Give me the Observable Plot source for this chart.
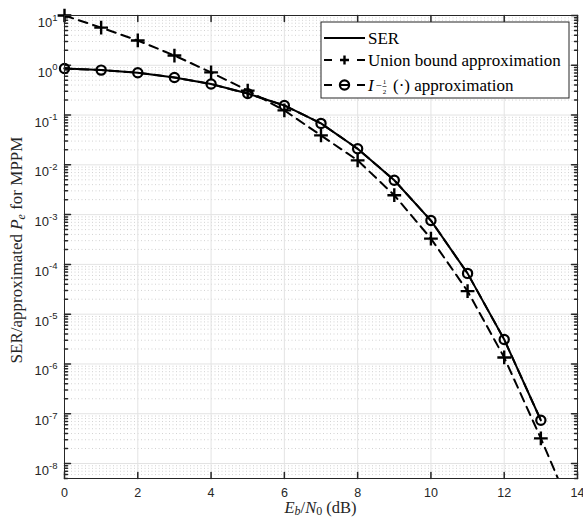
<!DOCTYPE html>
<html><head><meta charset="utf-8">
<script src="https://cdn.jsdelivr.net/npm/d3@7"></script>
<script src="https://cdn.jsdelivr.net/npm/@observablehq/plot@0.6"></script>
<style>body{margin:0;background:#fff}#chart{width:583px;height:518px}</style>
</head><body><div id="chart"></div>
<script>
// Eb/N0 (dB)
const ebn0 = [0,1,2,3,4,5,6,7,8,9,10,11,12,13];
// Simulated SER
const ser = [0.86,0.80,0.71,0.57,0.42,0.27,0.156,0.068,0.021,0.0049,7.6e-4,6.6e-5,3.1e-6,7.4e-8];
// I_{-1/2}(.) approximation
const iApprox = [0.86,0.80,0.71,0.57,0.42,0.27,0.156,0.068,0.021,0.0049,7.6e-4,6.6e-5,3.1e-6,7.4e-8];
// Union bound approximation (last point lies below the axis)
const ebn0Union = [0,1,2,3,4,5,6,7,8,9,10,11,12,13,14];
const unionBound = [10,5.7,3.15,1.57,0.72,0.31,0.124,0.039,0.0123,0.00245,3.3e-4,2.9e-5,1.35e-6,3.2e-8,6e-10];
// ticks
const xTicks = [0,2,4,6,8,10,12,14];
const yTickExps = [1,0,-1,-2,-3,-4,-5,-6,-7,-8];
const yMajor = yTickExps.map(e => Math.pow(10, e));
const yDomain = [5e-9, 10];
const yMinor = [];
for (let e = -9; e <= 0; e++) for (let m = 2; m <= 9; m++) {
  const v = m * Math.pow(10, e);
  if (v >= yDomain[0] && v <= yDomain[1]) yMinor.push(v);
}

const serData = ebn0.map((x, i) => ({x, y: ser[i]}));
const iData = ebn0.map((x, i) => ({x, y: iApprox[i]}));
const unionData = ebn0Union.map((x, i) => ({x, y: unionBound[i]}));
const unionPts = unionData.filter(d => d.y >= yDomain[0]);

const tickShape = {draw(ctx, l) { ctx.moveTo(0, 0); ctx.lineTo(0, -l); }};
const axisCol = "#262626";

const plot = Plot.plot({
  width: 583, height: 518,
  marginLeft: 64, marginRight: 6, marginTop: 15, marginBottom: 40,
  x: {domain: [0, 14], label: null},
  y: {type: "log", domain: yDomain, label: null},
  style: {background: "white", fontFamily: "'Liberation Sans', Arial, sans-serif", fontSize: "12.5px", color: axisCol},
  marks: [
    Plot.ruleY(yMinor, {stroke: "#d2d2d2", strokeDasharray: "1,2.5"}),
    Plot.ruleY(yMajor, {stroke: "#e3e3e3"}),
    Plot.ruleX(xTicks, {stroke: "#e3e3e3"}),
    // inward ticks
    Plot.vector(yMajor, {x: () => 0, y: d => d, length: 6, rotate: 90, anchor: "start", shape: tickShape, stroke: axisCol}),
    Plot.vector(yMajor, {x: () => 14, y: d => d, length: 6, rotate: -90, anchor: "start", shape: tickShape, stroke: axisCol}),
    Plot.vector(yMinor, {x: () => 0, y: d => d, length: 3, rotate: 90, anchor: "start", shape: tickShape, stroke: axisCol}),
    Plot.vector(yMinor, {x: () => 14, y: d => d, length: 3, rotate: -90, anchor: "start", shape: tickShape, stroke: axisCol}),
    Plot.vector(xTicks, {x: d => d, y: () => yDomain[0], length: 6, rotate: 0, anchor: "start", shape: tickShape, stroke: axisCol}),
    Plot.vector(xTicks, {x: d => d, y: () => yDomain[1], length: 6, rotate: 180, anchor: "start", shape: tickShape, stroke: axisCol}),
    // series
    Plot.line(unionData, {x: "x", y: "y", stroke: "black", strokeWidth: 2, strokeDasharray: "9,6", clip: true}),
    Plot.dot(unionPts, {x: "x", y: "y", symbol: "plus", r: 4.5, stroke: "black", strokeWidth: 2.4}),
    Plot.line(serData, {x: "x", y: "y", stroke: "black", strokeWidth: 2}),
    Plot.line(iData, {x: "x", y: "y", stroke: "black", strokeWidth: 2, strokeDasharray: "9,6"}),
    Plot.dot(iData, {x: "x", y: "y", r: 4.6, fill: "none", stroke: "black", strokeWidth: 2.2}),
    Plot.frame({stroke: axisCol}),
    Plot.axisY({ticks: yMajor, tickSize: 0, tickPadding: 7, fontSize: 12.5, tickFormat: d => "10^" + Math.round(Math.log10(d)), label: null}),
    Plot.axisX({ticks: xTicks, tickSize: 0, tickPadding: 10, fontSize: 12.5, tickFormat: d => String(d), label: null})
  ]
});
document.getElementById("chart").appendChild(plot);

const svg = d3.select(plot);
// superscript exponents on y tick labels
svg.selectAll('g[aria-label="y-axis tick label"] text').each(function() {
  const t = d3.select(this);
  const s = t.text();
  if (s.indexOf("^") < 0) return;
  const exp = s.split("^")[1];
  t.text("");
  t.attr("dy", null);
  t.append("tspan").attr("dy", "7.5").attr("font-size", "13px").text("10");
  t.append("tspan").attr("dy", "-6.5").attr("font-size", "9.5px").text(exp);
});

const serif = "'Liberation Serif', 'Times New Roman', serif";
// x label
const xl = svg.append("text").attr("x", 320.5).attr("y", 513).attr("text-anchor", "middle")
  .attr("font-family", serif).attr("font-size", 16.5).attr("fill", axisCol);
xl.append("tspan").attr("font-style", "italic").text("E");
xl.append("tspan").attr("font-style", "italic").attr("font-size", 12).attr("dy", 2).text("b");
xl.append("tspan").attr("dy", -2).text("/");
xl.append("tspan").attr("font-style", "italic").text("N");
xl.append("tspan").attr("font-size", 12).attr("dy", 2).text("0");
xl.append("tspan").attr("dy", -2).text(" (dB)");
// y label
const yl = svg.append("text").attr("transform", "translate(22,250) rotate(-90)").attr("text-anchor", "middle")
  .attr("font-family", serif).attr("font-size", 17).attr("fill", axisCol);
yl.append("tspan").text("SER/approximated ");
yl.append("tspan").attr("font-style", "italic").text("P");
yl.append("tspan").attr("font-style", "italic").attr("font-size", 12).attr("dy", 3).text("e");
yl.append("tspan").attr("dy", -3).text(" for MPPM");

// legend
const lg = svg.append("g").attr("font-family", serif).attr("font-size", 17).attr("fill", "black").attr("text-anchor", "start");
lg.append("rect").attr("x", 321).attr("y", 22).attr("width", 248).attr("height", 76)
  .attr("fill", "white").attr("stroke", axisCol).attr("stroke-width", 1);
const rows = [38, 60, 85];
const lx1 = 324, lx2 = 365, lm = (lx1 + lx2) / 2;
lg.append("line").attr("x1", lx1).attr("x2", lx2).attr("y1", rows[0]).attr("y2", rows[0]).attr("stroke", "black").attr("stroke-width", 2);
lg.append("line").attr("x1", lx1).attr("x2", lx2).attr("y1", rows[1]).attr("y2", rows[1]).attr("stroke", "black").attr("stroke-width", 2).attr("stroke-dasharray", "8,25,8");
lg.append("path").attr("d", `M${lm-4.5},${rows[1]}h9M${lm},${rows[1]-4.5}v9`).attr("stroke", "black").attr("stroke-width", 2.4);
lg.append("line").attr("x1", lx1).attr("x2", lx2).attr("y1", rows[2]).attr("y2", rows[2]).attr("stroke", "black").attr("stroke-width", 2).attr("stroke-dasharray", "8,25,8");
lg.append("line").attr("x1", lm - 4.5).attr("x2", lm + 4.5).attr("y1", rows[2]).attr("y2", rows[2]).attr("stroke", "black").attr("stroke-width", 2);
lg.append("circle").attr("cx", lm).attr("cy", rows[2]).attr("r", 4.6).attr("fill", "none").attr("stroke", "black").attr("stroke-width", 2.2);
lg.append("text").attr("x", 368).attr("y", rows[0] + 5.5).text("SER");
lg.append("text").attr("x", 368).attr("y", rows[1] + 5.5).text("Union bound approximation");
lg.append("text").attr("x", 368).attr("y", rows[2] + 5.5).attr("font-style", "italic").text("I");
lg.append("text").attr("x", 375.5).attr("y", rows[2] + 4).attr("font-size", 11).text("\u2212");
lg.append("text").attr("x", 384.5).attr("y", rows[2] - 1).attr("font-size", 7).attr("text-anchor", "middle").text("1");
lg.append("line").attr("x1", 382.5).attr("x2", 386.5).attr("y1", rows[2] + 1.5).attr("y2", rows[2] + 1.5).attr("stroke", "black").attr("stroke-width", 0.6);
lg.append("text").attr("x", 384.5).attr("y", rows[2] + 8.5).attr("font-size", 7).attr("text-anchor", "middle").text("2");
lg.append("text").attr("x", 393).attr("y", rows[2] + 5.5).text("(\u00b7) approximation");
</script>
</body></html>
